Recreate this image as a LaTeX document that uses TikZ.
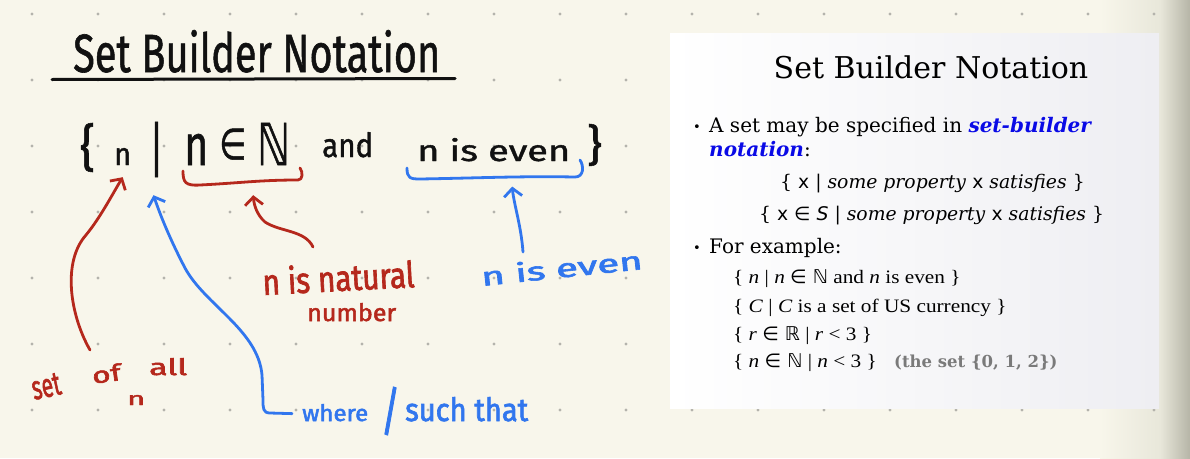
\documentclass[tikz,border=0pt]{standalone}
\usepackage{fontspec}
\usepackage{graphicx}
\usetikzlibrary{arrows.meta,calc}
\setmainfont{DejaVu Serif}
\newfontfamily\hand{Fira Sans}[FakeBold=2.2]
\newfontfamily\handbig{Fira Sans}[FakeBold=1.2]
\newfontfamily\dvsans{DejaVu Sans}
\newfontfamily\dvsansb{DejaVu Sans}[FakeBold=1.2]
\newfontfamily\libser{Liberation Serif}[FakeStretch=1.12]
\newcommand{\hw}[3]{\resizebox{#1pt}{#2pt}{\hand #3}}
\newcommand{\hwt}[3]{\resizebox*{#1pt}{#2pt}{\hand #3}}
\newcommand{\hb}[3]{\resizebox{#1pt}{#2pt}{\handbig #3}}
\newcommand{\hbt}[3]{\resizebox*{#1pt}{#2pt}{\handbig #3}}
\definecolor{paper}{HTML}{F8F6EB}
\definecolor{hred}{HTML}{B5281C}
\definecolor{hblue}{HTML}{3176EE}
\definecolor{ink}{HTML}{111111}
\definecolor{dotc}{HTML}{B4B3AC}
\definecolor{linkblue}{HTML}{0A0AE6}
\definecolor{graytxt}{HTML}{7A7A7A}
\definecolor{panelR}{HTML}{EEEEF2}
\definecolor{edgeA}{HTML}{E8E7DA}
\definecolor{edgeB}{HTML}{B6B5A7}
\begin{document}
\begin{tikzpicture}[x=1pt,y=-1pt,
  hwn/.style={inner sep=0pt, anchor=base west},
  hwc/.style={inner sep=0pt, anchor=center},
  pen/.style={line width=2.8pt, line cap=round, line join=round},
  harrow/.style={pen, -{Straight Barb[length=8pt,width=18pt]}},
  ptext/.style={inner sep=0pt, anchor=base west, font=\fontsize{20}{24}\selectfont},
  pform/.style={inner sep=0pt, anchor=base west, font=\fontsize{18.8}{22}\selectfont},
  pex/.style={inner sep=0pt, anchor=base west, font=\libser\fontsize{19}{22}\selectfont}]
% background
\fill[paper] (0,0) rectangle (1190,458);
\useasboundingbox (0,0) rectangle (1190,458);
\shade[left color=paper,right color=edgeA] (1100,0) rectangle (1160,458);
\shade[left color=edgeA,right color=edgeB] (1160,0) rectangle (1190,458);
% dot grid
\foreach \i in {0,...,17} \foreach \j in {0,...,6}
  \fill[dotc] ({32+66*\i},{14+66*\j}) circle (1.6pt);
% ---------------- handwritten part ----------------
\node[hwn,text=ink] (title) at (73,72) {\hb{367}{42}{Set Builder Notation}};
\draw[pen,ink,line width=3pt] (52,79.5) -- (455,78.5);
% expression
\node[hwc,text=ink] (lb) at (87.5,147.5) {\hbt{15}{49}{\{}};
\node[hwn,text=ink] (n1) at (114,165) {\hb{17}{17}{n}};
\node[hwc,text=ink] (bar) at (156.5,149.5) {\hbt{13}{55}{|}};
\node[hwn,text=ink] (grp1) at (184,165) {\hb{106}{42}{n \raisebox{1pt}{\scalebox{0.75}{\dvsansb ∈}} {\dvsansb ℕ}}};
\node[hwn,text=ink] (and) at (322,157) {\hb{51}{25}{and}};
\node[hwn,text=ink] (grp2) at (417,161) {\hb{153}{23}{n is even}};
\node[hwc,text=ink] (rb) at (594.5,145) {\hbt{15}{42}{\}}};
% under-brackets
\draw[pen,hred] (183,171) .. controls (183,182) and (185,186) .. (200,185)
  .. controls (240,183) and (260,180) .. (298,180) .. controls (303,180) and (303,172) .. (300,168);
\draw[pen,hblue] (407,168) .. controls (407,178) and (410,179) .. (420,179)
  .. controls (480,178) and (520,176) .. (575,177) .. controls (584,177) and (584,166) .. (580,160);
% labels
\node[hwn,text=hred,rotate=12] (lset) at (34,400) {\hw{29}{22}{set}};
\node[hwn,text=hred,rotate=8] (lof) at (93,384) {\hw{29}{17}{of}};
\node[hwn,text=hred] (lall) at (149,375) {\hw{38}{17}{all}};
\node[hwn,text=hred] (ln) at (127,405) {\hw{18}{10}{n}};
\node[hwn,text=hred,rotate=3] (nat) at (263,295) {\hw{152}{28}{n is natural}};
\node[hwn,text=hred] (num) at (307,321) {\hw{89}{18}{number}};
\node[hwn,text=hblue,rotate=6] (even) at (482,286) {\hw{162}{20}{n is even}};
\node[hwn,text=hblue] (where) at (302,421) {\hw{66}{17}{where}};
\node[hwc,text=hblue] (slash) at (390.5,411) {\hwt{19}{48}{/}};
\node[hwn,text=hblue] (such) at (405,421) {\hw{123}{24}{such that}};
% arrows
\coordinate (cset) at (90,350);
\coordinate (cnat) at (313,247);
\coordinate (ceven) at (523,252);
\draw[harrow,hred] (cset) .. controls (70,315) and (62,262) .. (86,235)
  .. controls (100,218) and (112,195) .. ($(n1.south)+(0,12)$);
\draw[harrow,hblue] ($(where.west)+(-10,1)$) -- (270,413) .. controls (263,413) and (263,408) .. (263,400)
  -- (262,375) .. controls (258,330) and (205,305) .. (185,268)
  .. controls (172,243) and (162,220) .. ($(bar.south)+(-3,18)$);
\draw[harrow,hred] (cnat) .. controls (305,230) and (280,232) .. (265,222)
  .. controls (257,215) and (254,205) .. ($(grp1.south)+(16,30)$);
\draw[harrow,hblue] (ceven) .. controls (521,225) and (514,205) .. ($(grp2.south)+(18.5,25)$);
% ---------------- slide panel ----------------
\shade[left color=white,right color=panelR] (670,33) rectangle (1159,408);
\node[inner sep=0pt,anchor=base,font=\fontsize{30}{34}\selectfont] (ptitle) at (931,78) {Set Builder Notation};
\node[inner sep=0pt,anchor=base west,font=\fontsize{13}{16}\selectfont] (b1) at (693,131) {•};
\node[ptext] (l1) at (709,132) {A set may be specified in \textcolor{linkblue}{\bfseries\itshape set-builder}};
\node[ptext] (l2) at (709,156) {\textcolor{linkblue}{\bfseries\itshape notation}:};
\node[pform] (f1) at (780,188) {\{ {\dvsans x} | \textit{some property} {\dvsans x} \textit{satisfies} \}};
\node[pform] (f2) at (759,220) {\{ {\dvsans x ∈ \itshape S} | \textit{some property} {\dvsans x} \textit{satisfies} \}};
\node[inner sep=0pt,anchor=base west,font=\fontsize{13}{16}\selectfont] (b2) at (693,252) {•};
\node[ptext] (l3) at (709,253) {For example:};
\node[pex] (e1) at (733,283) {\{ \textit{n} | \textit{n} {\dvsans ∈ ℕ} and \textit{n} is even \}};
\node[pex] (e2) at (733,312) {\{ \textit{C} | \textit{C} is a set of US currency \}};
\node[pex] (e3) at (733,340) {\{ \textit{r} {\dvsans ∈ ℝ} | \textit{r} < 3 \}};
\node[pex] (e4) at (733,367) {\{ \textit{n} {\dvsans ∈ ℕ} | \textit{n} < 3 \}};
\node[inner sep=0pt,anchor=base west,font=\bfseries\fontsize{16.5}{20}\selectfont,text=graytxt] (e4b) at (894,367) {(the set \{0, 1, 2\})};
\end{tikzpicture}
\end{document}
